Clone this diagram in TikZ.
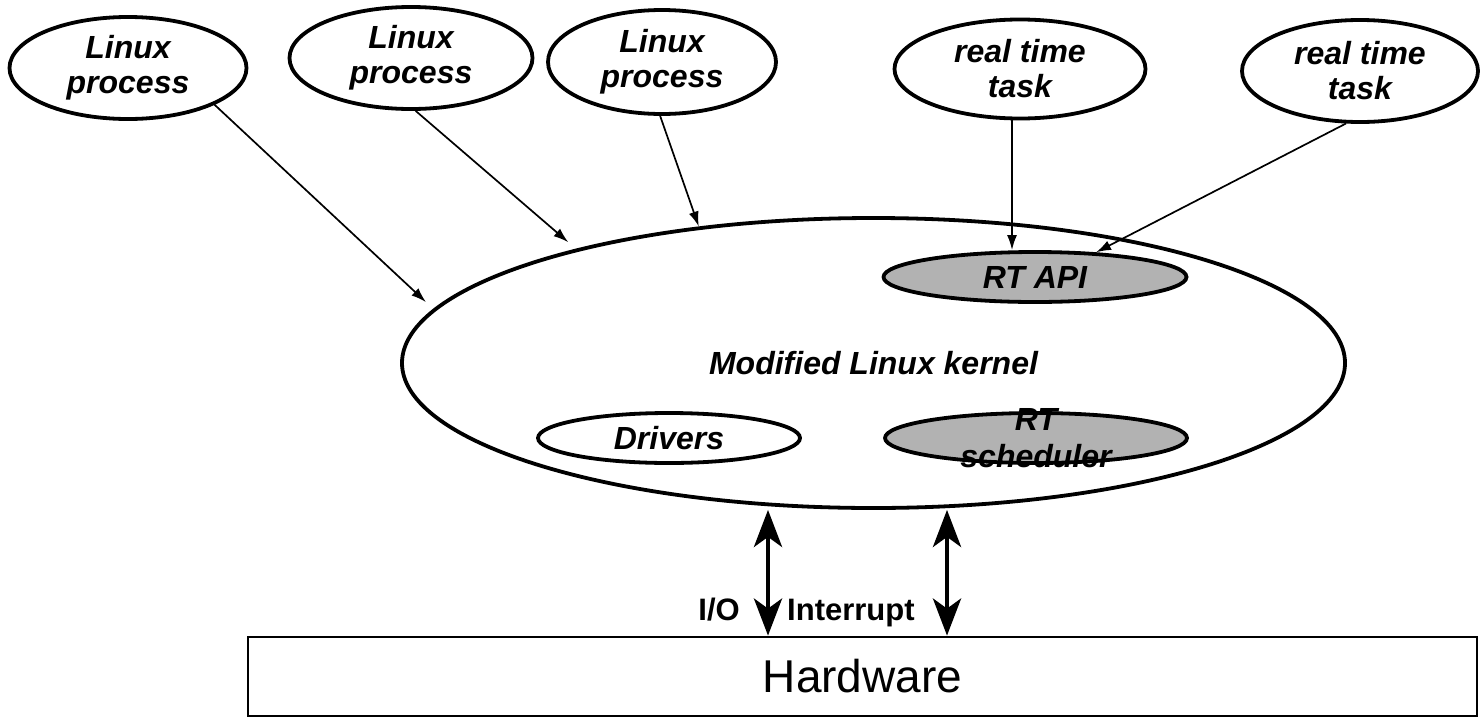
\documentclass[tikz,border=0pt]{standalone}
\usepackage{fontspec}
\setmainfont{Liberation Sans}
\usetikzlibrary{
  arrows.meta,
  shapes.geometric
}
\definecolor{ApiGray}{RGB}{178,178,178}
\tikzset{
  modtext/.style={font=\fontsize{32}{37}\selectfont\bfseries\itshape},
  userproc/.style={ellipse,draw,line width=3.8pt,fill=white,inner sep=0pt,align=center,font=\fontsize{32}{35}\selectfont\bfseries\itshape},
  kernelnode/.style={ellipse,draw,line width=3.8pt,inner sep=0pt,minimum width=943pt,minimum height=290pt,modtext},
  modnode/.style={ellipse,draw,line width=3.8pt,inner sep=0pt,minimum height=50pt,modtext},
  rtmod/.style={modnode,fill=ApiGray},
  hwnode/.style={draw,line width=2.8pt,minimum width=1229pt,minimum height=79pt,font=\fontsize{46}{50}\selectfont},
  callarrow/.style={-{Latex[length=15pt,width=10pt]},line width=1.7pt},
  busarrow/.style={{Stealth[length=37pt,width=28pt,inset=10pt]}-{Stealth[length=37pt,width=28pt,inset=10pt]},line width=4.7pt},
  buslabel/.style={inner sep=0pt,font=\fontsize{31}{35}\selectfont\bfseries}
}
\begin{document}
\begin{tikzpicture}[x=1pt,y=-1pt]
\useasboundingbox (0,0) rectangle (1480,718);
\node[userproc,minimum width=237pt,minimum height=102pt] (lp1) at (128,68) {Linux\\process};
\node[userproc,minimum width=243pt,minimum height=102pt] (lp2) at (411,58) {Linux\\process};
\node[userproc,minimum width=228pt,minimum height=104pt] (lp3) at (662,62) {Linux\\process};
\node[userproc,minimum width=251pt,minimum height=99pt] (rt1) at (1020,69) {real time\\task};
\node[userproc,minimum width=236pt,minimum height=102pt] (rt2) at (1360,71) {real time\\task};
\node[kernelnode] (kern) at (873.5,363) {Modified Linux kernel};
\node[rtmod,minimum width=303pt] (api) at (1035,277) {RT API};
\node[modnode,minimum width=262pt] (drv) at (669,438) {Drivers};
\node[rtmod,minimum width=302pt,label={[modtext,align=center]center:{RT\\scheduler}}] (sched) at (1036,438) {};
\node[hwnode] (hw) at (862.5,676.5) {Hardware};
\draw[callarrow,shorten >=10pt] (lp1.-23) -- (kern.173);
\draw[callarrow,shorten >=10pt] (lp2.-85) -- (kern.159);
\draw[callarrow] (lp3.-92) -- (kern.142);
\draw[callarrow] ([xshift=-8pt]rt1.south) -- ([xshift=-8pt]rt1.south |- api.north);
\draw[callarrow] (rt2.-105) -- (api.22);
\draw[busarrow] ([xshift=-94.5pt]hw.north |- kern.south) -- ([xshift=-94.5pt]hw.north);
\draw[busarrow] ([xshift=84.5pt]hw.north |- kern.south) -- ([xshift=84.5pt]hw.north);
\node[buslabel,anchor=base east] (iolbl) at (740,620) {I/O};
\node[buslabel,anchor=base west] (irqlbl) at (787,620) {Interrupt};
\end{tikzpicture}
\end{document}
